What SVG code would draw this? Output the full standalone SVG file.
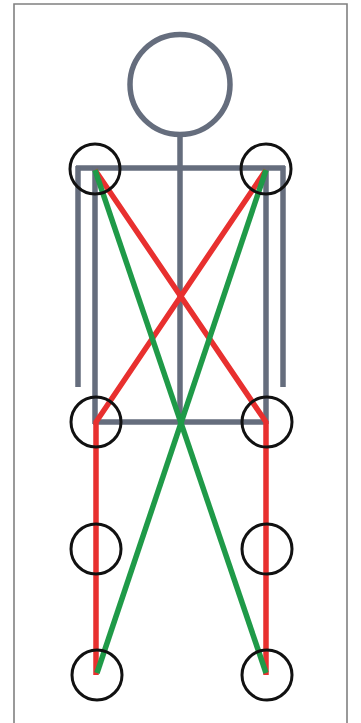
<svg xmlns="http://www.w3.org/2000/svg" width="361" height="723" viewBox="0 0 361 723">
<style>
.g{fill:none;stroke:#656d7d;stroke-width:5.5;stroke-linecap:butt}
.r{fill:none;stroke:#e8302f;stroke-width:5.5;stroke-linejoin:miter}
.gr{fill:none;stroke:#1f9a48;stroke-width:5.5}
.j{fill:none;stroke:#111;stroke-width:3}
</style>
<rect width="361" height="723" fill="#fff"/>
<path d="M14,723 V4 H347 V723" fill="none" stroke="#808080" stroke-width="1.6"/>
<g id="figure">
<circle class="g" cx="180" cy="84.5" r="50"/>
<line class="g" x1="180" y1="134" x2="180" y2="424"/>
<line class="g" x1="76" y1="168" x2="285" y2="168"/>
<line class="g" x1="78" y1="166" x2="78" y2="387"/>
<line class="g" x1="283" y1="166" x2="283" y2="387"/>
<line class="g" x1="95" y1="166" x2="95" y2="424"/>
<line class="g" x1="266" y1="166" x2="266" y2="424"/>
<line class="g" x1="93" y1="422" x2="268" y2="422"/>
</g>
<g id="connectors">
<path class="r" d="M95,170 L266,422 L266,675"/>
<path class="r" d="M266,170 L96,422 L96,675"/>
<line class="gr" x1="95" y1="170" x2="266" y2="673"/>
<line class="gr" x1="266" y1="170" x2="97" y2="673"/>
</g>
<g id="joint-ls"><circle class="j" cx="95" cy="169" r="25"/></g>
<g id="joint-rs"><circle class="j" cx="266" cy="169" r="25"/></g>
<g id="joint-lh"><circle class="j" cx="96" cy="422" r="25"/></g>
<g id="joint-rh"><circle class="j" cx="267" cy="422" r="25"/></g>
<g id="joint-lk"><circle class="j" cx="96" cy="549" r="25"/></g>
<g id="joint-rk"><circle class="j" cx="267" cy="549" r="25"/></g>
<g id="joint-lf"><circle class="j" cx="97" cy="675" r="25"/></g>
<g id="joint-rf"><circle class="j" cx="267" cy="675" r="25"/></g>
</svg>
